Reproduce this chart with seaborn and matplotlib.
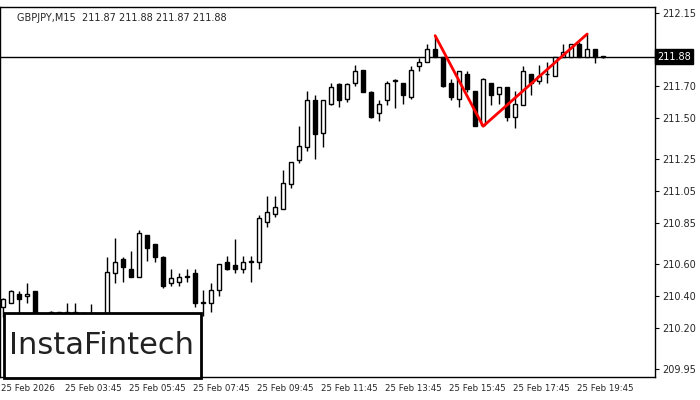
import matplotlib
matplotlib.use("Agg")
import matplotlib.pyplot as plt
import seaborn as sns
import numpy as np
import pandas as pd
from matplotlib.patches import Rectangle

# OHLC of GBPJPY M15 candles
opens = [210.33, 210.36, 210.41, 210.40, 210.43, 210.18, 210.18, 210.30, 210.20, 210.30,
         210.25, 210.25, 210.23, 210.10, 210.54, 210.63, 210.57, 210.52, 210.78, 210.72,
         210.64, 210.48, 210.49, 210.52, 210.54, 210.36, 210.36, 210.44, 210.61, 210.59,
         210.57, 210.61, 210.61, 210.86, 210.91, 210.94, 211.09, 211.24, 211.32, 211.61,
         211.41, 211.59, 211.71, 211.62, 211.72, 211.80, 211.66, 211.53, 211.61, 211.73,
         211.72, 211.63, 211.82, 211.85, 211.93, 211.88, 211.72, 211.62, 211.77, 211.67,
         211.46, 211.72, 211.65, 211.69, 211.51, 211.58, 211.77, 211.73, 211.77, 211.76,
         211.88, 211.88, 211.96, 211.88, 211.93, 211.88]
highs = [210.39, 210.44, 210.43, 210.48, 210.43, 210.27, 210.31, 210.30, 210.36, 210.36,
         210.30, 210.35, 210.24, 210.64, 210.76, 210.64, 210.68, 210.81, 210.78, 210.72,
         210.65, 210.57, 210.54, 210.57, 210.57, 210.44, 210.48, 210.60, 210.65, 210.75,
         210.65, 210.65, 210.90, 211.02, 211.02, 211.18, 211.23, 211.45, 211.67, 211.64,
         211.61, 211.72, 211.72, 211.72, 211.83, 211.80, 211.67, 211.61, 211.73, 211.74,
         211.72, 211.82, 211.87, 211.96, 212.01, 211.88, 211.74, 211.79, 211.79, 211.67,
         211.75, 211.72, 211.69, 211.69, 211.67, 211.82, 211.77, 211.83, 211.85, 211.88,
         211.96, 211.96, 211.97, 212.02, 211.93, 211.88]
lows = [210.27, 210.36, 210.27, 210.36, 210.17, 210.14, 210.18, 210.14, 210.19, 210.23,
        210.18, 210.13, 210.07, 210.07, 210.48, 210.49, 210.52, 210.52, 210.62, 210.61,
        210.45, 210.46, 210.46, 210.49, 210.33, 210.28, 210.30, 210.40, 210.56, 210.54,
        210.54, 210.49, 210.57, 210.83, 210.89, 210.94, 211.07, 211.22, 211.30, 211.25,
        211.32, 211.58, 211.57, 211.60, 211.70, 211.66, 211.50, 211.48, 211.58, 211.56,
        211.59, 211.62, 211.79, 211.85, 211.88, 211.69, 211.61, 211.57, 211.66, 211.45,
        211.45, 211.58, 211.59, 211.48, 211.44, 211.58, 211.64, 211.71, 211.72, 211.76,
        211.88, 211.88, 211.88, 211.88, 211.84, 211.87]
closes = [210.38, 210.43, 210.38, 210.41, 210.17, 210.17, 210.30, 210.21, 210.30, 210.26,
          210.23, 210.24, 210.10, 210.55, 210.61, 210.58, 210.52, 210.79, 210.70, 210.64,
          210.46, 210.51, 210.52, 210.52, 210.36, 210.36, 210.44, 210.60, 210.57, 210.57,
          210.61, 210.61, 210.88, 210.92, 210.95, 211.10, 211.23, 211.33, 211.61, 211.40,
          211.61, 211.69, 211.61, 211.71, 211.79, 211.66, 211.51, 211.59, 211.72, 211.73,
          211.64, 211.80, 211.85, 211.93, 211.88, 211.70, 211.63, 211.79, 211.68, 211.45,
          211.74, 211.64, 211.69, 211.51, 211.59, 211.79, 211.72, 211.76, 211.77, 211.88,
          211.91, 211.96, 211.88, 211.93, 211.88, 211.88]

# double top pattern: candle index and price of the three points
pattern_idx = [54, 60, 73]
pattern_price = [212.01, 211.45, 212.02]

current_price = 211.88
ytick_vals = [212.15, 211.70, 211.50, 211.25, 211.05, 210.85, 210.60, 210.40, 210.20, 209.95]
xtick_labels = ["25 Feb 2026", "25 Feb 03:45", "25 Feb 05:45", "25 Feb 07:45", "25 Feb 09:45",
                "25 Feb 11:45", "25 Feb 13:45", "25 Feb 15:45", "25 Feb 17:45", "25 Feb 19:45"]

df = pd.DataFrame({"open": opens, "high": highs, "low": lows, "close": closes})
df["idx"] = np.arange(len(df))

sns.set_style("white")
plt.rcParams['font.family'] = ['DejaVu Sans']

fig = plt.figure(figsize=(7, 4), dpi=100)
ax = fig.add_axes([0.0, 0.0575, 0.936, 0.925])

# wicks
ax.vlines(df["idx"], df["low"], df["high"], color="black", linewidth=1, zorder=2)
# bodies
body_lo = df[["open", "close"]].min(axis=1)
body_h = (df["close"] - df["open"]).abs().clip(lower=0.004)
up = df["close"] >= df["open"]
ax.bar(df["idx"][up], body_h[up], bottom=body_lo[up], width=0.55,
       color="white", edgecolor="black", linewidth=1, zorder=3)
ax.bar(df["idx"][~up], body_h[~up], bottom=body_lo[~up], width=0.55,
       color="black", edgecolor="black", linewidth=1, zorder=3)

# pattern line
pat = pd.DataFrame({"i": pattern_idx, "p": pattern_price})
sns.lineplot(data=pat, x="i", y="p", color="red", linewidth=2, ax=ax, zorder=4, sort=False)

ax.axhline(current_price, color="black", linewidth=1, zorder=1)

ax.set_xlim(-0.375, 81.5)
ax.set_ylim(209.90, 212.187)
ax.set_xlabel("")
ax.set_ylabel("")

ax.yaxis.tick_right()
ax.set_yticks(ytick_vals)
ax.set_yticklabels([f"{v:.2f}" for v in ytick_vals], fontsize=7)
ax.set_xticks(np.arange(0, 8 * len(xtick_labels), 8) - 0.3)
ax.set_xticklabels(xtick_labels, fontsize=6.2, ha="left")
ax.tick_params(axis="both", length=3, pad=2, color="black")
for s in ax.spines.values():
    s.set_color("black")
    s.set_linewidth(1)

# current price label
ax.text(1.003, (current_price - 209.90) / (212.187 - 209.90), f"{current_price:.2f}",
        transform=ax.transAxes, fontsize=7, color="white", va="center", ha="left",
        bbox=dict(boxstyle="square,pad=0.25", fc="black", ec="black"), zorder=5)

ax.text(0.026, 0.985, "GBPJPY,M15  211.87 211.88 211.87 211.88", transform=ax.transAxes,
        fontsize=7, va="top", ha="left")

# logo box
fig.patches.append(Rectangle((4 / 700, 22 / 400), 197 / 700, 65 / 400, transform=fig.transFigure,
                             fc="white", ec="black", lw=2, zorder=10))
fig.text(102 / 700, 55 / 400, "InstaFintech", fontsize=22, ha="center", va="center",
         color="#222222", zorder=11)

fig.savefig("out.png", dpi=100)
